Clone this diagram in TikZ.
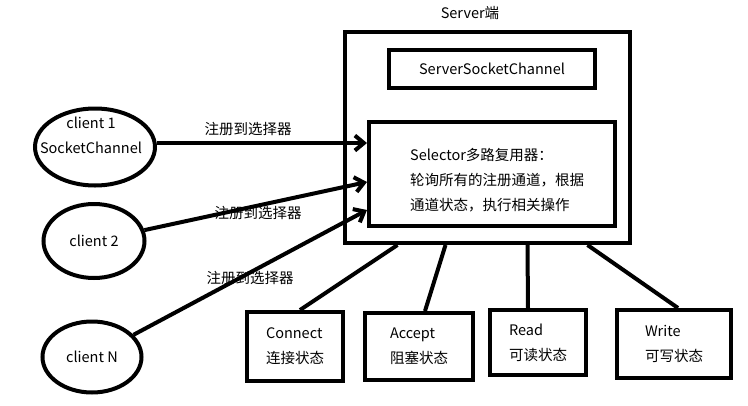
\documentclass[tikz,border=0pt]{standalone}
\usepackage{fontspec}
\setmainfont{Noto Sans CJK SC}
\usetikzlibrary{arrows.meta,shapes.geometric}

\begin{document}
\begin{tikzpicture}[x=1pt, y=-1pt,
    every node/.style={font=\fontsize{14.5}{25}\selectfont},
    box/.style={draw, line width=4pt, inner sep=0pt},
    client/.style={draw, ellipse, line width=4pt, inner sep=0pt, align=center},
    state/.style={box, align=left},
    link/.style={line width=4pt},
    reg/.style={link, -{Straight Barb[length=9pt,width=15pt]}}]
    \useasboundingbox (0,0) rectangle (748,405);

    % server side
    \node[box, minimum width=285pt, minimum height=211pt] (srv) at (487.5,137.5) {};
    \node (srvlbl) at (470,13) {Server端};
    \node[box, minimum width=206pt, minimum height=38pt] (ssc) at (492,69) {ServerSocketChannel};
    \node[box, minimum width=246pt, minimum height=104pt] (sel) at (492,174) {};
    \node[align=left, anchor=west, inner sep=0pt] (seltxt) at (410,180) {Selector多路复用器：\\轮询所有的注册通道，根据\\通道状态，执行相关操作};

    % clients
    \node[client, minimum width=120pt, minimum height=77pt] (c1) at (95,147) {};
    \node[align=center] (c1txt) at (91,135) {client 1\\SocketChannel};
    \node[client, minimum width=101pt, minimum height=74pt] (c2) at (94,241) {client 2};
    \node[client, minimum width=99pt, minimum height=71pt] (cn) at (92,357) {client N};

    \draw[reg] ([yshift=4pt]c1.east) -- ([yshift=4pt]c1.east -| sel.west);
    \draw[reg] (c2) -- ([yshift=-8pt]sel.west);
    \draw[reg] (cn) -- ([yshift=-36pt]sel.west);

    \node (reg1) at (248,129) {注册到选择器};
    \node (reg2) at (258,213) {注册到选择器};
    \node (regn) at (250,278) {注册到选择器};

    % states
    \foreach \n/\cx/\cy/\w/\h/\ta/\tb/\sx/\dx in {
        con/295/346.5/96/69/Connect/连接状态/5/-90,
        acc/419/346.5/108/67/Accept/阻塞状态/6/-42,
        rd/538/342.5/96/65/Read/可读状态/-10/40,
        wr/674/344/114/68/Write/可写状态/4/100}
    {
        \node[state, minimum width=\w pt, minimum height=\h pt] (\n) at (\cx,\cy) {\ta\\\tb};
        \draw[link] ([xshift=\sx pt]\n.north) -- ([xshift=\dx pt]srv.south);
    }

\end{tikzpicture}
\end{document}
